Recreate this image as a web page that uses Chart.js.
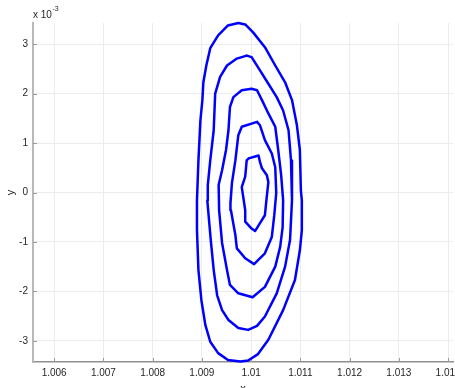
<!DOCTYPE html>
<html>
<head>
  <meta charset="UTF-8">
  <title>Contour</title>
  <script src="https://cdn.jsdelivr.net/npm/chart.js"></script>
  <style>
    html, body { margin: 0; padding: 0; background: #fff; overflow: hidden; }
    canvas { display: block; }
  </style>
</head>
<body>
  <canvas id="contourChart" width="455" height="400"></canvas>
  <script>
    // tick values (y is in units of 1e-3)
    const xTicks = [1.006, 1.007, 1.008, 1.009, 1.010, 1.011, 1.012, 1.013, 1.014];
    const yTicks = [-3, -2, -1, 0, 1, 2, 3];

    // contour levels, outer to inner
    const c1x = [1.00974, 1.00988, 1.01004, 1.01028, 1.01049, 1.01069, 1.01083, 1.01093, 1.01099, 1.01101, 1.01103, 1.01103, 1.01099, 1.01089, 1.01065, 1.01035, 1.01014, 1.00994, 1.00978, 1.00953, 1.00933, 1.00917, 1.00907, 1.00899, 1.00893, 1.0089, 1.0089, 1.00893, 1.00897, 1.00901, 1.00903, 1.00909, 1.00917, 1.00933, 1.00953];
    const c1y = [3.43, 3.40, 3.24, 2.94, 2.57, 2.23, 1.87, 1.36, 0.86, 0.05, -0.16, -0.76, -1.17, -1.77, -2.38, -2.98, -3.27, -3.40, -3.42, -3.39, -3.25, -3.02, -2.68, -2.18, -1.57, -0.76, -0.16, 0.65, 1.46, 1.87, 2.23, 2.57, 2.92, 3.18, 3.38];

    const c2x = [1.00991, 1.01001, 1.01018, 1.01035, 1.01052, 1.01065, 1.01076, 1.01081, 1.01083, 1.01079, 1.01069, 1.01052, 1.01028, 1.01012, 1.00994, 1.00974, 1.00954, 1.00941, 1.00931, 1.00924, 1.00918, 1.00911, 1.00912, 1.00917, 1.00924, 1.00927, 1.00937, 1.00951, 1.00971];
    const c2y = [2.77, 2.74, 2.47, 2.20, 1.93, 1.66, 1.26, 0.65, -0.16, -0.96, -1.50, -2.04, -2.51, -2.70, -2.78, -2.74, -2.58, -2.38, -2.08, -1.57, -0.96, -0.16, 0.15, 0.65, 1.26, 2.00, 2.34, 2.57, 2.71];

    const c3x = [1.01001, 1.01012, 1.01022, 1.01035, 1.01049, 1.01055, 1.01061, 1.01065, 1.01064, 1.01059, 1.01049, 1.01028, 1.01003, 1.00974, 1.00957, 1.00951, 1.00941, 1.00935, 1.00934, 1.00941, 1.00949, 1.00954, 1.00957, 1.00964, 1.00981];
    const c3y = [2.10, 2.07, 1.87, 1.60, 1.33, 0.86, 0.35, -0.16, -0.70, -1.10, -1.50, -1.91, -2.12, -2.04, -1.87, -1.57, -1.02, -0.36, 0.15, 0.45, 0.86, 1.26, 1.73, 1.93, 2.07];

    const c4x = [1.01012, 1.01018, 1.01028, 1.01042, 1.01049, 1.01051, 1.01047, 1.01042, 1.01028, 1.01006, 1.00988, 1.00971, 1.00968, 1.00959, 1.00958, 1.00961, 1.00968, 1.00974, 1.00981];
    const c4y = [1.43, 1.36, 1.06, 0.79, 0.51, -0.01, -0.46, -0.90, -1.23, -1.45, -1.33, -1.13, -0.86, -0.36, -0.22, 0.19, 0.65, 1.16, 1.33];

    const c5x = [1.00995, 1.01015, 1.01018, 1.01022, 1.01032, 1.01035, 1.01031, 1.01028, 1.01018, 1.01008, 1.01001, 1.00988, 1.00988, 1.00984, 1.00981, 1.00988, 1.00991];
    const c5y = [0.69, 0.75, 0.62, 0.49, 0.35, 0.21, -0.16, -0.46, -0.62, -0.78, -0.73, -0.59, -0.36, -0.09, 0.11, 0.32, 0.65];

    const contours = [[c1x, c1y], [c2x, c2y], [c3x, c3y], [c4x, c4y], [c5x, c5y]];

    function closed(xs, ys) {
      const pts = xs.map((x, i) => ({ x, y: ys[i] }));
      pts.push(pts[0]);
      return pts;
    }

    const font = { family: "'Liberation Sans', Arial, sans-serif", size: 10 };

    // inward tick marks + the x10^-3 multiplier
    const extras = {
      id: 'extras',
      beforeDatasetsDraw(chart) {
        const { ctx, chartArea: a, scales: { x, y } } = chart;
        ctx.save();
        ctx.strokeStyle = '#9a9a9a';
        ctx.lineWidth = 1;
        x.ticks.forEach(t => {
          const px = Math.round(x.getPixelForValue(t.value)) + 0.5;
          ctx.beginPath(); ctx.moveTo(px, a.bottom); ctx.lineTo(px, a.bottom - 4); ctx.stroke();
        });
        y.ticks.forEach(t => {
          const py = Math.round(y.getPixelForValue(t.value)) + 0.5;
          ctx.beginPath(); ctx.moveTo(a.left, py); ctx.lineTo(a.left + 4, py); ctx.stroke();
        });
        ctx.restore();
      },
      afterDraw(chart) {
        const { ctx, chartArea: a } = chart;
        ctx.save();
        ctx.fillStyle = '#262626';
        ctx.textBaseline = 'middle';
        ctx.font = "10px 'Liberation Sans', Arial, sans-serif";
        ctx.fillText('x 10', a.left, 15);
        const w = ctx.measureText('x 10').width;
        ctx.font = "7px 'Liberation Sans', Arial, sans-serif";
        ctx.fillText('-3', a.left + w + 0.5, 9);
        ctx.restore();
      }
    };

    new Chart(document.getElementById('contourChart'), {
      type: 'scatter',
      data: {
        datasets: contours.map(([xs, ys]) => ({
          data: closed(xs, ys),
          showLine: true,
          borderColor: '#0000ff',
          borderWidth: 2.5,
          borderJoinStyle: 'round',
          borderCapStyle: 'round',
          pointRadius: 0,
          tension: 0,
          fill: false,
          clip: 6
        }))
      },
      options: {
        responsive: false,
        animation: false,
        layout: { padding: { top: 23, right: 2, bottom: 0, left: 0 } },
        plugins: { legend: { display: false }, tooltip: { enabled: false } },
        scales: {
          x: {
            type: 'linear',
            min: 1.00557,
            max: 1.0141,
            afterBuildTicks: s => { s.ticks = xTicks.map(v => ({ value: v })); },
            afterFit: s => { s.height = 38; s.paddingLeft = 0; s.paddingRight = 0; },
            ticks: {
              callback: v => String(+v.toFixed(3)),
              font, color: '#262626', padding: 5, maxRotation: 0, autoSkip: false
            },
            grid: { color: '#ececec', drawTicks: false },
            border: { color: '#8f8f8f', width: 1.5 },
            title: { display: true, text: 'x', font: { ...font, size: 11 }, color: '#262626', padding: { top: 0, bottom: 4 } }
          },
          y: {
            type: 'linear',
            min: -3.43,
            max: 3.43,
            afterBuildTicks: s => { s.ticks = yTicks.map(v => ({ value: v })); },
            afterFit: s => { s.width = 33; s.paddingTop = 0; s.paddingBottom = 0; },
            ticks: { font, color: '#262626', padding: 5 },
            grid: { color: '#ececec', drawTicks: false },
            border: { color: '#b8b8b8', width: 2 },
            title: { display: true, text: 'y', font: { ...font, size: 11 }, color: '#262626', padding: { top: 4, bottom: 0 } }
          }
        }
      },
      plugins: [extras]
    });
  </script>
</body>
</html>
